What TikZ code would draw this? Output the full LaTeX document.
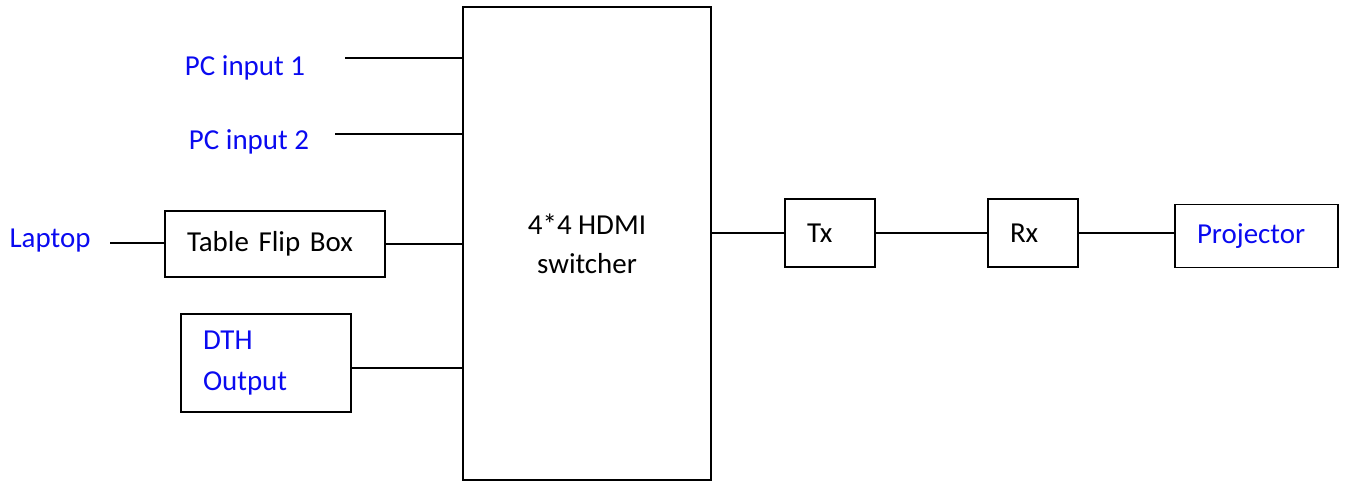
\documentclass[tikz,border=0pt]{standalone}
\usepackage{fontspec}
\setmainfont{Carlito}
\usetikzlibrary{positioning}
\definecolor{lblue}{RGB}{10,10,240}

\begin{document}
\begin{tikzpicture}[
      x=0.75pt,y=-0.75pt,
      font=\fontsize{21.7}{29}\selectfont,
      blk/.style={rectangle,draw=black,line width=1.3pt,align=left,
                  inner xsep=16.5pt,inner ysep=0pt},
      lbl/.style={text=lblue,inner sep=0pt},
      wire/.style={line width=1.3pt}
    ]
      \useasboundingbox (0,0) rectangle (1346,482);

      % switcher
      \node[blk,align=center,minimum width=186pt,minimum height=354.75pt] (sw) at (587,243.5)
            {4*4 HDMI\\switcher};

      % inputs
      \node[lbl] (pc1) at (245,68) {PC input 1};
      \node[lbl] (pc2) at (249,142) {PC input 2};
      \node[lbl] (lap) at (50,241) {Laptop};
      \node[blk,text width=132pt,minimum height=49.5pt] (flip) at (275,244) {Table Flip Box};
      \node[blk,text width=94.5pt,minimum height=73.5pt,text=lblue,
            font=\fontsize{21.7}{30.75}\selectfont] (dth) at (266,363) {DTH\\Output};

      % outputs
      \node[blk,text width=34.5pt,minimum height=51pt] (tx) at (830,233) {Tx};
      \node[blk,text width=34.5pt,minimum height=51pt] (rx) at (1033,233) {Rx};
      \node[blk,text width=89.25pt,minimum height=47.25pt,text=lblue] (proj) at (1256.5,236) {Projector};

      \coordinate (pc1end) at (345,58);
      \coordinate (pc2end) at (335,134);
      \coordinate (lapend) at (110,243);

      \draw[wire] (pc1end) -- (pc1end -| sw.west);
      \draw[wire] (pc2end) -- (pc2end -| sw.west);
      \draw[wire] (lapend) -- (lapend -| flip.west);
      \draw[wire] (flip.east) -- (flip.east -| sw.west);
      \draw[wire] ([yshift=-3.75pt]dth.east) -- ([yshift=-3.75pt]dth.east -| sw.west);
      \draw[wire] (tx.west -| sw.east) -- (tx.west);
      \draw[wire] (tx.east) -- (rx.west);
      \draw[wire] (rx.east) -- (rx.east -| proj.west);
    \end{tikzpicture}
\end{document}
